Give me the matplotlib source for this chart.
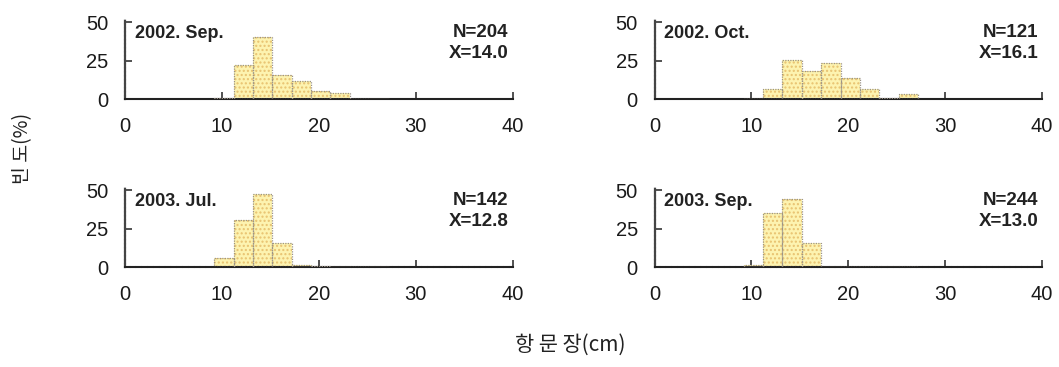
import matplotlib
matplotlib.use("Agg")
import matplotlib.pyplot as plt
import numpy as np

# ---- data ----
bin_centers = [10, 12, 14, 16, 18, 20, 22, 24, 26]
titles = ["2002. Sep.", "2002. Oct.", "2003. Jul.", "2003. Sep."]
n_labels = ["N=204", "N=121", "N=142", "N=244"]
x_labels = ["X=14.0", "X=16.1", "X=12.8", "X=13.0"]
sep2002 = [1.0, 22.0, 40.0, 15.6, 12.0, 5.4, 4.0, 0.0, 0.0]
oct2002 = [0.0, 6.9, 25.2, 18.3, 23.5, 13.5, 6.9, 0.8, 3.6]
jul2003 = [6.2, 30.5, 47.5, 15.8, 1.5, 0.8, 0.0, 0.0, 0.0]
sep2003 = [1.5, 34.8, 44.4, 15.5, 0.0, 0.0, 0.5, 0.5, 0.5]
series = [sep2002, oct2002, jul2003, sep2003]
yticks = [0, 25, 50]
xticks = [0, 10, 20, 30, 40]

fig = plt.figure(figsize=(10.59, 3.67), dpi=100)
tick_font = "Liberation Sans"

W, H = 1059, 367
lefts = [125, 654.5]
bottoms = [99.3, 267.3]
ax_w = 387.5
ax_h = 77.3 * 51 / 50

for i in range(4):
    r, c = divmod(i, 2)
    ax = fig.add_axes([lefts[c] / W, 1 - bottoms[r] / H, ax_w / W, ax_h / H])
    vals = series[i]
    pos = np.array(bin_centers) + 0.2
    ax.bar(pos, vals, width=2.0, color="#fdf3b0", edgecolor="#e8c270",
           hatch="....", linewidth=0, zorder=2)
    ax.bar(pos, vals, width=2.0, fill=False, edgecolor="#9c9488",
           linewidth=0.9, linestyle=(0, (1, 1)), zorder=3)
    ax.set_xlim(0, 40)
    ax.set_ylim(0, 51)
    ax.set_xticks(xticks)
    ax.set_yticks(yticks)
    for s in ["top", "right"]:
        ax.spines[s].set_visible(False)
    ax.spines["left"].set_bounds(0, 51)
    ax.spines["left"].set_linestyle((0, (1, 0.8)))
    ax.spines["left"].set_color("#444444")
    ax.spines["left"].set_linewidth(1.6)
    ax.spines["bottom"].set_color("#222222")
    ax.spines["bottom"].set_linewidth(1.5)
    if r == 1:
        ax.spines["bottom"].set_linestyle((0, (2, 0.8)))
    ax.tick_params(axis="both", direction="in", length=5, width=1.2,
                   color="#333333", labelsize=14.5)
    ax.tick_params(axis="x", pad=13)
    ax.tick_params(axis="y", pad=12)
    for lab in ax.get_xticklabels() + ax.get_yticklabels():
        lab.set_fontfamily(tick_font)
        lab.set_color("#1a1a1a")
    ax.text(1.0, 42.3, titles[i], ha="left", va="center", fontsize=13,
            fontweight="bold", family=tick_font, color="#222222")
    ax.text(39.6, 43.3, n_labels[i], ha="right", va="center", fontsize=13.5,
            fontweight="bold", family=tick_font, color="#222222")
    ax.text(39.6, 29.8, x_labels[i], ha="right", va="center", fontsize=13.5,
            fontweight="bold", family=tick_font, color="#222222")

fig.text(23 / W, 1 - 148 / H, "빈 도(%)", rotation=90, ha="center", va="center",
         fontsize=14, family=["Noto Sans CJK KR", "DejaVu Sans"], color="#222222")
fig.text(570 / W, 1 - 345 / H, "항 문 장(cm)", ha="center", va="center",
         fontsize=15, family=["Noto Sans CJK KR", "DejaVu Sans"], color="#222222")

fig.savefig("out.png", dpi=100)
